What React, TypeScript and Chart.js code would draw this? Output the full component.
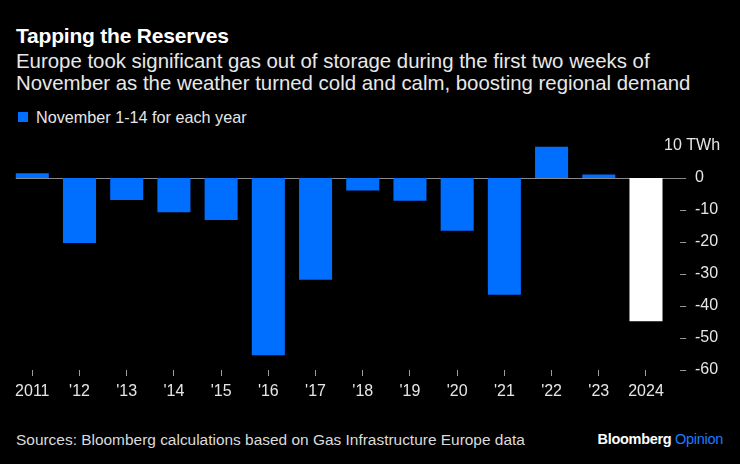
import React, { useEffect, useRef } from "react";
import { Chart, registerables } from "chart.js";

Chart.register(...registerables);

const categories = ["2011", "'12", "'13", "'14", "'15", "'16", "'17", "'18", "'19", "'20", "'21", "'22", "'23", "2024"];
const storageChange = [1.5, -20.3, -6.9, -10.7, -13.1, -55.4, -31.8, -3.9, -7.1, -16.5, -36.5, 9.8, 1.1, -44.8];
const yTicks = [10, 0, -10, -20, -30, -40, -50, -60];
const unitLabel = "10 TWh";

const BLUE = "#006fff";
const WHITE = "#ffffff";
const FONT = "'Liberation Sans', Arial, sans-serif";

const overlayPlugin = {
  id: "overlay",
  beforeDatasetsDraw(chart: any) {
    const { ctx, scales } = chart;
    const x = scales.x;
    const y = scales.y;
    const y0 = Math.round(y.getPixelForValue(0)) + 0.5;
    const barW = (x.getPixelForValue(1) - x.getPixelForValue(0)) * 0.7;
    const xStart = x.getPixelForValue(0) - barW / 2;
    ctx.save();
    ctx.strokeStyle = "#8a8a8a";
    ctx.lineWidth = 1;
    ctx.beginPath();
    ctx.moveTo(xStart, y0);
    ctx.lineTo(chart.chartArea.right + 16.5, y0);
    ctx.stroke();
    ctx.restore();
  },
  afterDraw(chart: any) {
    const { ctx, scales, chartArea } = chart;
    const y = scales.y;
    ctx.save();
    ctx.strokeStyle = "#9a9a9a";
    ctx.lineWidth = 1;
    for (const v of yTicks) {
      if (v >= 0) continue;
      const py = Math.round(y.getPixelForValue(v)) + 0.5;
      ctx.beginPath();
      ctx.moveTo(chartArea.right + 10.5, py);
      ctx.lineTo(chartArea.right + 16.5, py);
      ctx.stroke();
    }
    ctx.fillStyle = "#e6e6e6";
    ctx.font = `16px ${FONT}`;
    ctx.textAlign = "right";
    ctx.textBaseline = "middle";
    ctx.fillText(unitLabel, chartArea.right + 50.5, y.getPixelForValue(yTicks[0]));
    ctx.restore();
  },
};

export default function App() {
  const ref = useRef<HTMLCanvasElement | null>(null);

  useEffect(() => {
    if (!ref.current) return;
    const chart = new Chart(ref.current, {
      type: "bar",
      data: {
        labels: categories,
        datasets: [
          {
            label: "November 1-14 for each year",
            data: storageChange,
            backgroundColor: storageChange.map((_, i) => (i === storageChange.length - 1 ? WHITE : BLUE)),
            barPercentage: 0.7,
            categoryPercentage: 1.0,
            borderWidth: 0,
          },
        ],
      },
      options: {
        responsive: false,
        animation: false,
        devicePixelRatio: 1,
        layout: { padding: { left: 8.7, top: 13.7, right: 0, bottom: 0 } },
        plugins: {
          legend: { display: false },
          tooltip: { enabled: false },
          title: { display: false },
        },
        scales: {
          x: {
            offset: true,
            border: { display: false },
            grid: {
              display: true,
              offset: false,
              drawOnChartArea: false,
              drawTicks: true,
              tickLength: 6,
              tickColor: "#9a9a9a",
              color: "transparent",
            },
            ticks: {
              color: "#e6e6e6",
              font: { family: FONT, size: 16 },
              padding: 6,
              maxRotation: 0,
              autoSkip: false,
            },
            afterFit: (s: any) => {
              s.height = 40;
            },
          },
          y: {
            position: "right",
            min: -60,
            max: 10,
            border: { display: false },
            grid: { display: false, drawTicks: false },
            ticks: {
              stepSize: 10,
              color: "#e6e6e6",
              font: { family: FONT, size: 16 },
              padding: 25.4,
              crossAlign: "near",
              callback: (v: any) => (Number(v) === yTicks[0] ? "" : String(v)),
            },
            afterFit: (s: any) => {
              s.width = 70.4;
            },
          },
        },
      },
      plugins: [overlayPlugin],
    });
    return () => chart.destroy();
  }, []);

  const text: React.CSSProperties = { position: "absolute", fontFamily: FONT, whiteSpace: "nowrap" };

  return (
    <div style={{ position: "fixed", left: 0, top: 0, width: 740, height: 464, background: "#000", overflow: "hidden" }}>
      <div style={{ ...text, left: 16, top: 24, fontSize: 21, lineHeight: "24px", fontWeight: 700, color: "#ffffff", letterSpacing: -0.2 }}>
        Tapping the Reserves
      </div>
      <div style={{ ...text, left: 16, top: 50, fontSize: 20.4, lineHeight: "22px", color: "#e8e8e8" }}>
        Europe took significant gas out of storage during the first two weeks of
        <br />
        November as the weather turned cold and calm, boosting regional demand
      </div>
      <div style={{ ...text, left: 18, top: 108, fontSize: 16.2, lineHeight: "18px", color: "#e6e6e6", display: "flex", alignItems: "center" }}>
        <span style={{ display: "inline-block", width: 10, height: 10, background: BLUE, marginRight: 8 }} />
        <span>November 1-14 for each year</span>
      </div>
      <canvas ref={ref} width={740} height={299} style={{ position: "absolute", left: 0, top: 111, width: 740, height: 299 }} />
      <div style={{ ...text, left: 16, top: 431, fontSize: 15.45, color: "#dcdcdc" }}>
        Sources: Bloomberg calculations based on Gas Infrastructure Europe data
      </div>
      <div style={{ ...text, right: 17, top: 431, fontSize: 14.5, fontWeight: 700, color: "#ffffff", letterSpacing: -0.3 }}>
        Bloomberg <span style={{ color: "#1a7cff", fontWeight: 400 }}>Opinion</span>
      </div>
    </div>
  );
}
